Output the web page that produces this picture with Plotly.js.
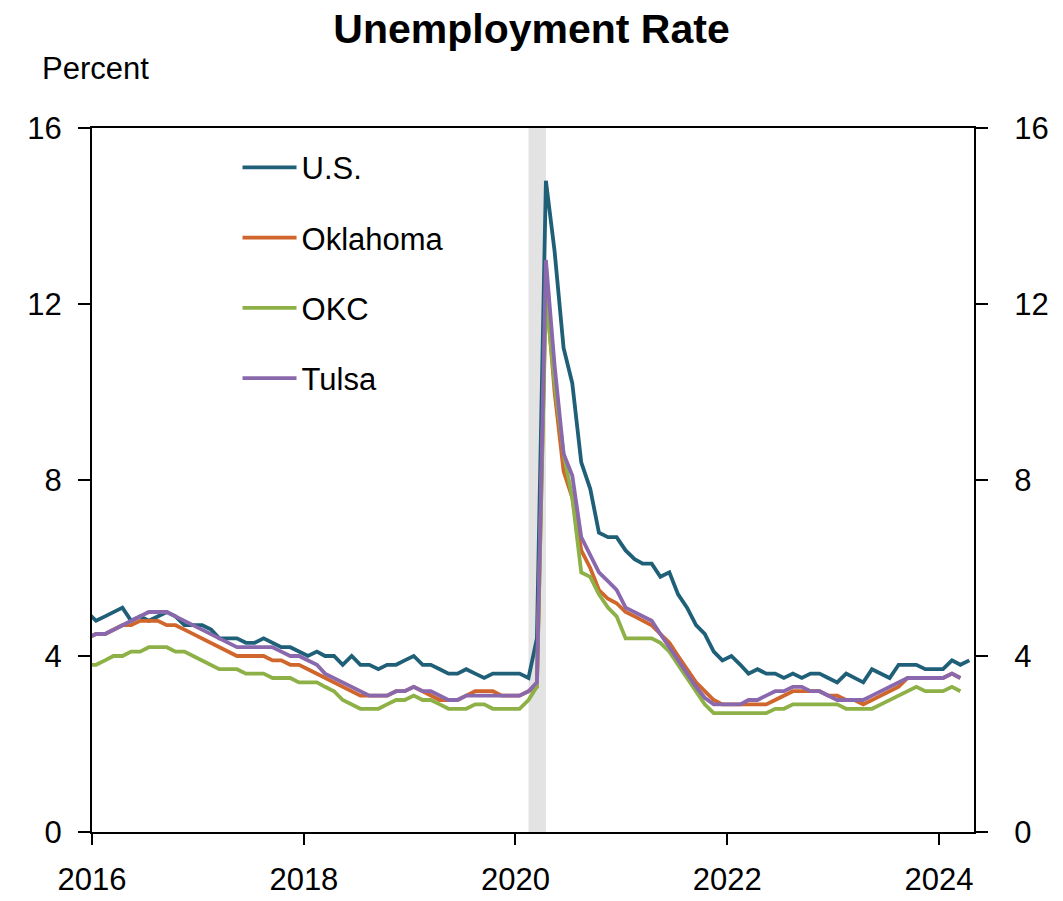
<!DOCTYPE html>
<html>
<head>
<meta charset="utf-8">
<script src="https://cdn.plot.ly/plotly-3.0.1.min.js"></script>
<style>html,body{margin:0;padding:0;background:#fff;}#chart{width:1063px;height:901px;}</style>
</head>
<body>
<div id="chart"></div>
<script>
// Monthly values, Dec 2015 onward (mid-month)
var usValues = [5.0,
4.8,4.9,5.0,5.1,4.8,4.9,4.8,4.9,5.0,4.9,4.7,4.7,
4.7,4.6,4.4,4.4,4.4,4.3,4.3,4.4,4.3,4.2,4.2,4.1,
4.0,4.1,4.0,4.0,3.8,4.0,3.8,3.8,3.7,3.8,3.8,3.9,
4.0,3.8,3.8,3.7,3.6,3.6,3.7,3.6,3.5,3.6,3.6,3.6,
3.6,3.5,4.4,14.8,13.2,11.0,10.2,8.4,7.8,6.8,6.7,6.7,
6.4,6.2,6.1,6.1,5.8,5.9,5.4,5.1,4.7,4.5,4.1,3.9,
4.0,3.8,3.6,3.7,3.6,3.6,3.5,3.6,3.5,3.6,3.6,3.5,
3.4,3.6,3.5,3.4,3.7,3.6,3.5,3.8,3.8,3.8,3.7,3.7,
3.7,3.9,3.8,3.9];
var oklahomaValues = [4.4,
4.5,4.5,4.6,4.7,4.7,4.8,4.8,4.8,4.7,4.7,4.6,4.5,
4.4,4.3,4.2,4.1,4.0,4.0,4.0,4.0,3.9,3.9,3.8,3.8,
3.7,3.6,3.5,3.4,3.3,3.2,3.1,3.1,3.1,3.1,3.2,3.2,
3.3,3.2,3.1,3.0,3.0,3.0,3.1,3.2,3.2,3.2,3.1,3.1,
3.1,3.2,3.3,12.4,10.0,8.2,7.6,6.4,6.0,5.5,5.3,5.2,
5.0,4.9,4.8,4.7,4.5,4.3,4.0,3.7,3.4,3.2,3.0,2.9,
2.9,2.9,2.9,2.9,2.9,3.0,3.1,3.2,3.2,3.2,3.2,3.1,
3.1,3.0,3.0,2.9,3.0,3.1,3.2,3.3,3.5,3.5,3.5,3.5,
3.5,3.6,3.5];
var okcValues = [3.8,
3.8,3.9,4.0,4.0,4.1,4.1,4.2,4.2,4.2,4.1,4.1,4.0,
3.9,3.8,3.7,3.7,3.7,3.6,3.6,3.6,3.5,3.5,3.5,3.4,
3.4,3.4,3.3,3.2,3.0,2.9,2.8,2.8,2.8,2.9,3.0,3.0,
3.1,3.0,3.0,2.9,2.8,2.8,2.8,2.9,2.9,2.8,2.8,2.8,
2.8,3.0,3.3,12.2,10.2,8.6,7.6,5.9,5.8,5.4,5.1,4.9,
4.4,4.4,4.4,4.4,4.3,4.1,3.8,3.5,3.2,2.9,2.7,2.7,
2.7,2.7,2.7,2.7,2.7,2.8,2.8,2.9,2.9,2.9,2.9,2.9,
2.9,2.8,2.8,2.8,2.8,2.9,3.0,3.1,3.2,3.3,3.2,3.2,
3.2,3.3,3.2];
var tulsaValues = [4.4,
4.5,4.5,4.6,4.7,4.8,4.9,5.0,5.0,5.0,4.9,4.8,4.7,
4.6,4.5,4.4,4.3,4.2,4.2,4.2,4.2,4.2,4.1,4.0,4.0,
3.9,3.8,3.6,3.5,3.4,3.3,3.2,3.1,3.1,3.1,3.2,3.2,
3.3,3.2,3.2,3.1,3.0,3.0,3.1,3.1,3.1,3.1,3.1,3.1,
3.1,3.2,3.4,13.0,10.6,8.6,8.1,6.7,6.3,5.9,5.7,5.5,
5.1,5.0,4.9,4.8,4.5,4.2,3.9,3.6,3.3,3.05,2.9,2.9,
2.9,2.9,3.0,3.0,3.1,3.2,3.2,3.3,3.3,3.2,3.2,3.1,
3.0,3.0,3.0,3.0,3.1,3.2,3.3,3.4,3.5,3.5,3.5,3.5,
3.5,3.6,3.5];
var seriesNames = ['U.S.', 'Oklahoma', 'OKC', 'Tulsa'];
var yTicks = [0, 4, 8, 12, 16];
var xTickYears = ['2016', '2018', '2020', '2022', '2024'];
var recessionStart = '2020-02-15';
var recessionEnd = '2020-04-15';

function monthDates(n) {
  var out = [];
  for (var k = 0; k < n; k++) {
    var y = 2015 + Math.floor((11 + k) / 12);
    var m = ((11 + k) % 12) + 1;
    out.push(y + '-' + (m < 10 ? '0' + m : m) + '-15');
  }
  return out;
}

var FONT = 'Liberation Sans, Arial, sans-serif';
var colors = ['#1f5f78', '#d0662b', '#8db147', '#8a68ad'];
var values = [usValues, oklahomaValues, okcValues, tulsaValues];

var traces = values.map(function (v, k) {
  return {
    x: monthDates(v.length),
    y: v,
    type: 'scatter',
    mode: 'lines',
    name: seriesNames[k],
    legendgroup: 'g' + k,
    line: {color: colors[k], width: 3.8},
    yaxis: k === 3 ? 'y2' : 'y',
    hoverinfo: 'x+y+name'
  };
});

var axisCommon = {
  range: [0, 16],
  tickvals: yTicks,
  ticktext: yTicks.map(String),
  ticks: 'outside',
  ticklen: 12,
  tickwidth: 2,
  tickcolor: '#000',
  showline: true,
  linewidth: 2,
  linecolor: '#000',
  showgrid: false,
  zeroline: false,
  fixedrange: true,
  tickfont: {family: FONT, size: 31, color: '#000'}
};

var layout = {
  width: 1063,
  height: 901,
  margin: {l: 92, r: 89, t: 128, b: 69, pad: 0},
  paper_bgcolor: '#fff',
  plot_bgcolor: '#fff',
  font: {family: FONT, color: '#000'},
  title: {
    text: '<b>Unemployment Rate</b>',
    font: {family: FONT, size: 41, color: '#000'},
    x: 0.5, xref: 'container', xanchor: 'center',
    y: 1 - 29 / 901, yref: 'container', yanchor: 'middle'
  },
  xaxis: {
    type: 'date',
    range: ['2016-01-01', '2024-05-01'],
    tickvals: xTickYears.map(function (y) { return y + '-01-01'; }),
    ticktext: xTickYears,
    ticks: 'outside',
    ticklen: 11,
    tickwidth: 2,
    tickcolor: '#000',
    showline: true,
    linewidth: 2,
    linecolor: '#000',
    mirror: true,
    showgrid: false,
    zeroline: false,
    fixedrange: true,
    ticklabelstandoff: 8,
    tickfont: {family: FONT, size: 31, color: '#000'}
  },
  yaxis: Object.assign({}, axisCommon, {side: 'left', ticklabelstandoff: 10}),
  yaxis2: Object.assign({}, axisCommon, {side: 'right', overlaying: 'y', ticklabelstandoff: 20}),
  shapes: [{
    type: 'rect', xref: 'x', yref: 'paper',
    x0: recessionStart, x1: recessionEnd, y0: 0, y1: 1,
    fillcolor: '#e3e3e3', line: {width: 0}, layer: 'below'
  }],
  annotations: [{
    text: 'Percent', xref: 'paper', yref: 'paper',
    x: (40 - 92) / 882, y: (832 - 68) / 704,
    xanchor: 'left', yanchor: 'middle', showarrow: false,
    font: {family: FONT, size: 31, color: '#000'}
  }],
  showlegend: true,
  legend: {
    x: 0.165, y: 0.982, xanchor: 'left', yanchor: 'top',
    bgcolor: 'rgba(0,0,0,0)',
    font: {family: FONT, size: 31, color: '#000'},
    tracegroupgap: 27,
    itemwidth: 54,
    traceorder: 'grouped'
  }
};

Plotly.newPlot('chart', traces, layout, {displayModeBar: false, staticPlot: true});
</script>
</body>
</html>
